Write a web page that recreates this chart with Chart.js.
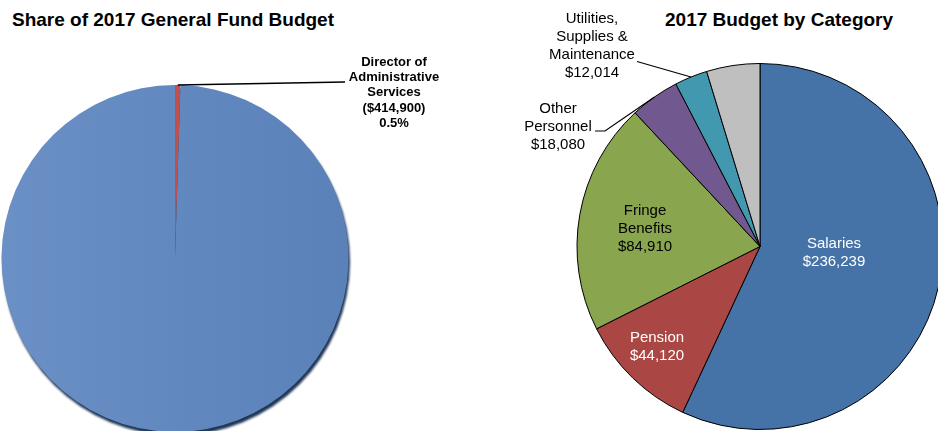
<!DOCTYPE html>
<html lang="en">
<head>
  <meta charset="UTF-8">
  <title>2017 Budget - Director of Administrative Services</title>
  <script src="https://cdn.jsdelivr.net/npm/chart.js"></script>
  <style>
    body {
      margin: 0;
      width: 938px;
      height: 431px;
      overflow: hidden;
      background: #fff;
      position: relative;
      font-family: "Liberation Sans", Arial, sans-serif;
    }
    .title {
      position: absolute;
      top: 10px;
      font-size: 19px;
      line-height: 19px;
      font-weight: bold;
      color: #000;
      white-space: nowrap;
    }
    #leftTitle { left: 12px; }
    #rightTitle { left: 665px; }
    canvas { position: absolute; top: 0; }
    #shareChart { left: 0; }
    #categoryChart { left: 470px; }
  </style>
</head>
<body>
<div class="title" id="leftTitle">Share of 2017 General Fund Budget</div>
<div class="title" id="rightTitle">2017 Budget by Category</div>
<canvas id="shareChart" width="470" height="440"></canvas>
<canvas id="categoryChart" width="480" height="431"></canvas>

<script>
  // General fund share
  const fundLabels = ['Director of Administrative Services', 'Rest of General Fund'];
  const fundValues = [414900, 82565100];

  // Department budget by category
  const categoryLabels = ['Salaries', 'Pension', 'Fringe Benefits', 'Other Personnel',
                          'Utilities, Supplies & Maintenance', 'Other Operating'];
  const categoryValues = [236239, 44120, 84910, 18080, 12014, 19537];
  const categoryColors = ['#4572a7', '#aa4643', '#89a54e', '#71588f', '#4198af', '#bfbfbf'];

  const money = v => '$' + v.toLocaleString('en-US');

  // draws text lines (and an optional leader line to the slice edge)
  const sliceLabels = {
    id: 'sliceLabels',
    afterDatasetsDraw(chart, args, opts) {
      const ctx = chart.ctx;
      const arcs = chart.getDatasetMeta(0).data;
      ctx.save();
      opts.items.forEach(item => {
        const arc = arcs[item.index];
        if (item.leader) {
          const mid = (arc.startAngle + arc.endAngle) / 2;
          const ex = arc.x + Math.cos(mid) * arc.outerRadius;
          const ey = arc.y + Math.sin(mid) * arc.outerRadius;
          ctx.strokeStyle = '#000';
          ctx.lineWidth = item.leaderWidth || 1.2;
          ctx.beginPath();
          ctx.moveTo(item.leader[0][0], item.leader[0][1]);
          item.leader.slice(1).forEach(p => ctx.lineTo(p[0], p[1]));
          ctx.lineTo(ex, ey);
          ctx.stroke();
        }
        ctx.fillStyle = item.color;
        ctx.font = item.font;
        ctx.textAlign = 'center';
        ctx.textBaseline = 'middle';
        item.lines.forEach((line, i) => {
          ctx.fillText(line, item.x, item.y + i * item.lineHeight);
        });
      });
      ctx.restore();
    }
  };

  // dark rim under the fund pie
  const pieShadow = {
    id: 'pieShadow',
    beforeDatasetsDraw(chart) {
      const arc = chart.getDatasetMeta(0).data[0];
      if (!arc) return;
      const ctx = chart.ctx;
      ctx.save();
      ctx.filter = 'blur(1.2px)';
      ctx.fillStyle = '#1f3656';
      ctx.beginPath();
      ctx.arc(arc.x + 1.5, arc.y + 3.5, arc.outerRadius, 0, Math.PI * 2);
      ctx.fill();
      ctx.restore();
    }
  };

  const fundTotal = fundValues.reduce((a, b) => a + b, 0);
  const directorPct = (fundValues[0] / fundTotal * 100).toFixed(1) + '%';

  new Chart(document.getElementById('shareChart'), {
    type: 'pie',
    data: {
      labels: fundLabels,
      datasets: [{
        data: fundValues,
        borderWidth: 0,
        hoverOffset: 0,
        backgroundColor: c => {
          if (c.dataIndex === 0) return '#c0504d';
          const area = c.chart.chartArea;
          if (!area) return '#5f88bf';
          const g = c.chart.ctx.createLinearGradient(area.left, 0, area.right, 0);
          g.addColorStop(0, '#6a90c6');
          g.addColorStop(1, '#5a81b8');
          return g;
        }
      }]
    },
    options: {
      responsive: false,
      animation: false,
      events: [],
      devicePixelRatio: 1,
      layout: { padding: { left: 1.5, right: 121.5, top: 85, bottom: 8 } },
      plugins: {
        legend: { display: false },
        tooltip: { enabled: false },
        sliceLabels: {
          items: [{
            index: 0,
            lines: ['Director of', 'Administrative', 'Services', '(' + money(fundValues[0]) + ')', directorPct],
            x: 394, y: 62, lineHeight: 15.4,
            font: 'bold 13px "Liberation Sans", Arial, sans-serif',
            color: '#000',
            leader: [[345, 82]],
            leaderWidth: 1.5
          }]
        }
      }
    },
    plugins: [pieShadow, sliceLabels]
  });

  const font15 = '15px "Liberation Sans", Arial, sans-serif';

  new Chart(document.getElementById('categoryChart'), {
    type: 'pie',
    data: {
      labels: categoryLabels,
      datasets: [{
        data: categoryValues,
        backgroundColor: categoryColors,
        borderColor: '#000',
        borderWidth: 1,
        hoverOffset: 0
      }]
    },
    options: {
      responsive: false,
      animation: false,
      events: [],
      devicePixelRatio: 1,
      layout: { padding: { left: 106.5, right: 6.5, top: 63, bottom: 1 } },
      plugins: {
        legend: { display: false },
        tooltip: { enabled: false },
        sliceLabels: {
          items: [
            { index: 0, lines: ['Salaries', money(categoryValues[0])], x: 364, y: 244, lineHeight: 18, font: font15, color: '#fff' },
            { index: 1, lines: ['Pension', money(categoryValues[1])], x: 187, y: 338, lineHeight: 18, font: font15, color: '#fff' },
            { index: 2, lines: ['Fringe', 'Benefits', money(categoryValues[2])], x: 175, y: 211, lineHeight: 18, font: font15, color: '#000' },
            { index: 3, lines: ['Other', 'Personnel', money(categoryValues[3])], x: 88, y: 109, lineHeight: 18, font: font15, color: '#000',
              leader: [[125, 131], [135, 131]] },
            { index: 4, lines: ['Utilities,', 'Supplies &', 'Maintenance', money(categoryValues[4])], x: 122, y: 19, lineHeight: 18, font: font15, color: '#000',
              leader: [[167, 61.5]] }
          ]
        }
      }
    },
    plugins: [sliceLabels]
  });
</script>
</body>
</html>
